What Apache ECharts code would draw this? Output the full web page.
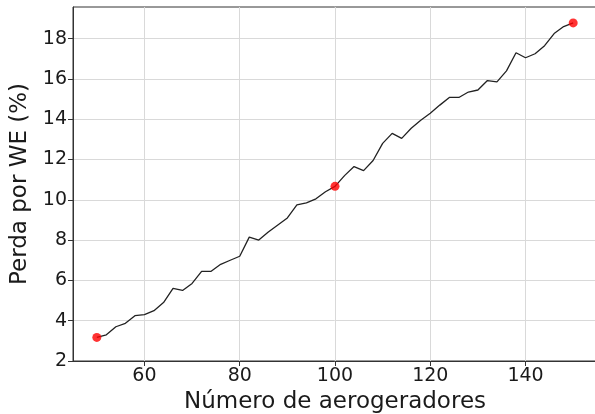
<!DOCTYPE html>
<html>
<head>
<meta charset="utf-8">
<script src="https://cdn.jsdelivr.net/npm/echarts@6/dist/echarts.min.js"></script>
<style>
  html, body { margin: 0; padding: 0; background: #ffffff; }
  #chart { width: 595px; height: 414px; }
</style>
</head>
<body>
<div id="chart"></div>
<script>
// Number of wind turbines (x) and the loss due to wake effect in percent (y)
const turbines = [50, 52, 54, 56, 58, 60, 62, 64, 66, 68, 70, 72, 74, 76, 78, 80, 82, 84, 86, 88,
  90, 92, 94, 96, 98, 100, 102, 104, 106, 108, 110, 112, 114, 116, 118, 120, 122, 124, 126, 128,
  130, 132, 134, 136, 138, 140, 142, 144, 146, 148, 150];
const lossPercent = [3.17, 3.3, 3.7, 3.87, 4.25, 4.3, 4.5, 4.9, 5.6, 5.5, 5.85, 6.45, 6.45, 6.8, 7.0, 7.2, 8.15, 8.0, 8.4, 8.75,
  9.1, 9.75, 9.85, 10.05, 10.4, 10.67, 11.2, 11.65, 11.45, 11.95, 12.8, 13.3, 13.05, 13.55, 13.95, 14.3, 14.7, 15.08, 15.08, 15.35,
  15.45, 15.92, 15.85, 16.4, 17.3, 17.05, 17.25, 17.65, 18.25, 18.6, 18.78];
// Turbine counts that get a red marker
const highlighted = [50, 100, 150];

// Axis ticks
const xTicks = [60, 80, 100, 120, 140];
const yTicks = [2, 4, 6, 8, 10, 12, 14, 16, 18];

const lineData = turbines.map((t, i) => [t, lossPercent[i]]);
const markerData = highlighted.map(t => [t, lossPercent[turbines.indexOf(t)]]);

const chart = echarts.init(document.getElementById('chart'), null, { renderer: 'canvas' });
const font = 'DejaVu Sans';

chart.setOption({
  animation: false,
  backgroundColor: '#ffffff',
  grid: {
    left: 73, top: 7, width: 524, height: 354,
    outerBoundsMode: 'none',
    containLabel: false,
    show: true, borderColor: '#333', borderWidth: 1, backgroundColor: 'transparent'
  },
  xAxis: {
    type: 'value', min: 45, max: 155,
    name: 'Número de aerogeradores',
    nameLocation: 'middle', nameGap: 25,
    nameTextStyle: { fontFamily: font, fontSize: 23, color: '#1a1a1a' },
    axisLine: { show: true, lineStyle: { color: '#333', width: 1 } },
    axisTick: { show: true, inside: false, length: 5, customValues: xTicks, lineStyle: { color: '#333' } },
    axisLabel: { customValues: xTicks, margin: 6, fontFamily: font, fontSize: 19, color: '#1a1a1a' },
    splitLine: { show: true, customValues: xTicks, lineStyle: { color: '#d9d9d9', width: 1 } }
  },
  yAxis: {
    type: 'value', min: 2, max: 19.57,
    name: 'Perda por WE (%)',
    nameLocation: 'middle', nameGap: 34,
    nameTextStyle: { fontFamily: font, fontSize: 23, color: '#1a1a1a' },
    axisLine: { show: true, lineStyle: { color: '#333', width: 1 } },
    axisTick: { show: true, inside: false, length: 5, customValues: yTicks, lineStyle: { color: '#333' } },
    axisLabel: { customValues: yTicks, margin: 6, fontFamily: font, fontSize: 19, color: '#1a1a1a' },
    splitLine: { show: true, customValues: yTicks, lineStyle: { color: '#d9d9d9', width: 1 } }
  },
  series: [
    {
      type: 'line',
      data: lineData,
      showSymbol: false,
      lineStyle: { color: '#222', width: 1.3 },
      z: 2
    },
    {
      type: 'scatter',
      data: markerData,
      symbol: 'circle',
      symbolSize: 9,
      itemStyle: { color: '#ff0000' },
      z: 3
    }
  ]
});
</script>
</body>
</html>
